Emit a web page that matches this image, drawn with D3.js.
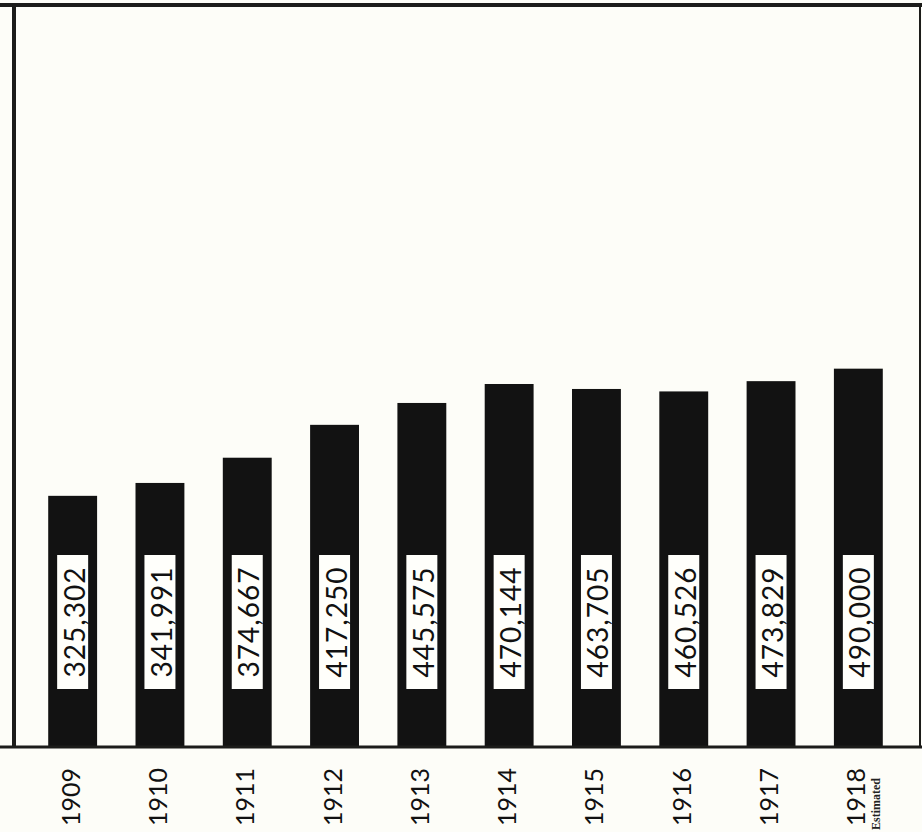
<!DOCTYPE html>
<meta charset="utf-8">
<style>
  body { margin: 0; background: #fdfdf8; }
  .bar { fill: #121212; }
  .frame { stroke: #1c1c1a; fill: none; }
  .val-box { fill: #fffffb; }
  .val-text { font-family: Lato, sans-serif; font-size: 28px; fill: #111; letter-spacing: 1px; }
  .year { font-family: Lato, sans-serif; font-size: 25px; fill: #111; }
  .note { font-family: "Liberation Serif", serif; font-size: 12px; font-weight: bold; fill: #222; }
</style>
<body>
  <script src="https://d3js.org/d3.v7.min.js"></script>
  <div id="chart"></div>
  <script>
    // years and values
    var years = ["1909", "1910", "1911", "1912", "1913", "1914", "1915", "1916", "1917", "1918"]
    var values = [325302, 341991, 374667, 417250, 445575, 470144, 463705, 460526, 473829, 490000]
    var notes = ["", "", "", "", "", "", "", "", "", "Estimated"]

    var width = 922, height = 832
    var baseY = 747

    var svg = d3.select("#chart").append("svg")
      .attr("width", width)
      .attr("height", height)

    var x = d3.scaleBand()
      .domain(years)
      .range([29, 902])
      .paddingInner(0.44)
      .paddingOuter(0.22)

    var y = d3.scaleLinear()
      .domain([0, 961000])
      .range([baseY, 5])

    var data = years.map(function (d, i) { return { year: d, value: values[i], note: notes[i] } })

    // bars
    svg.selectAll(".bar")
      .data(data)
      .enter()
      .append("rect")
      .attr("class", "bar")
      .attr("x", function (d) { return x(d.year) })
      .attr("y", function (d) { return y(d.value) })
      .attr("width", x.bandwidth())
      .attr("height", function (d) { return baseY - y(d.value) })

    // white label boxes with rotated numbers
    var labelY = 622
    var boxW = 31, boxH = 134
    svg.selectAll(".val-box")
      .data(data)
      .enter()
      .append("rect")
      .attr("class", "val-box")
      .attr("x", function (d) { return x(d.year) + x.bandwidth() / 2 - boxW / 2 })
      .attr("y", labelY - boxH / 2)
      .attr("width", boxW)
      .attr("height", boxH)

    var fmt = d3.format(",")
    svg.selectAll(".val-text")
      .data(data)
      .enter()
      .append("text")
      .attr("class", "val-text")
      .attr("text-anchor", "middle")
      .attr("dominant-baseline", "central")
      .attr("transform", function (d) {
        return "translate(" + (x(d.year) + x.bandwidth() / 2 + 1) + "," + labelY + ") rotate(-90)"
      })
      .text(function (d) { return fmt(d.value) })

    // frame: top line, left line, right line, base line
    svg.append("line").attr("class", "frame").attr("stroke-width", 4)
      .attr("x1", 0).attr("x2", width).attr("y1", 5).attr("y2", 5)
    svg.append("line").attr("class", "frame").attr("stroke-width", 4)
      .attr("x1", 14).attr("x2", 14).attr("y1", 3).attr("y2", baseY)
    svg.append("line").attr("class", "frame").attr("stroke-width", 2)
      .attr("x1", 920).attr("x2", 920).attr("y1", 5).attr("y2", baseY)
    svg.append("line").attr("class", "frame").attr("stroke-width", 3)
      .attr("x1", 0).attr("x2", width).attr("y1", baseY).attr("y2", baseY)

    // year labels under the base line
    var axis = svg.append("g")
      .attr("transform", "translate(0," + baseY + ")")
      .call(d3.axisBottom(x).tickSize(0).tickPadding(0))
    axis.select(".domain").remove()
    axis.selectAll("text")
      .attr("class", "year")
      .attr("fill", null)
      .attr("font-size", null)
      .attr("font-family", null)
      .attr("y", 0)
      .attr("dy", null)
      .attr("text-anchor", "middle")
      .attr("dominant-baseline", "central")
      .attr("transform", "translate(-3,50) rotate(-90)")

    svg.selectAll(".note")
      .data(data.filter(function (d) { return d.note }))
      .enter()
      .append("text")
      .attr("class", "note")
      .attr("text-anchor", "middle")
      .attr("dominant-baseline", "central")
      .attr("transform", function (d) {
        return "translate(" + (x(d.year) + x.bandwidth() / 2 + 18) + "," + (baseY + 57) + ") rotate(-90)"
      })
      .text(function (d) { return d.note })
  </script>
</body>
